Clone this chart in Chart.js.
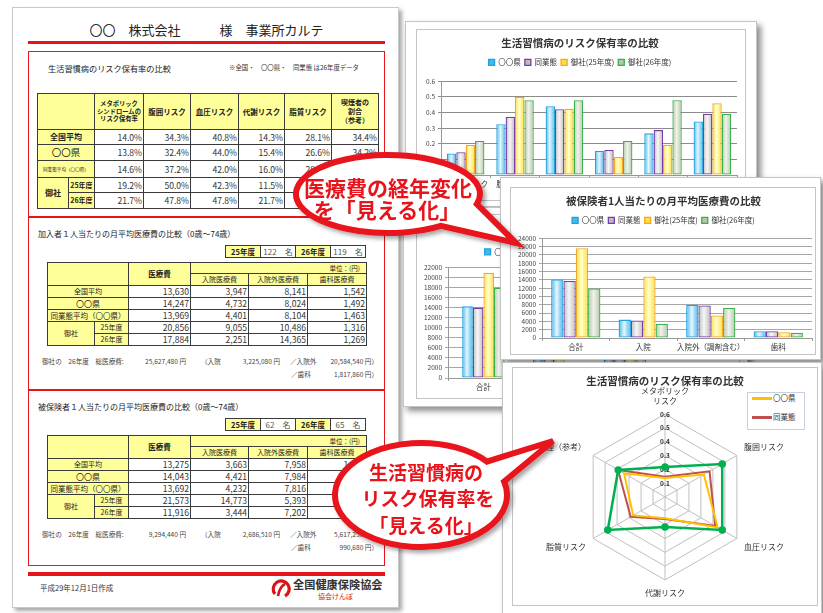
<!DOCTYPE html>
<html lang="ja">
<head>
<meta charset="utf-8">
<title>事業所カルテ</title>
<script src="https://cdn.jsdelivr.net/npm/chart.js@4.4.1/dist/chart.umd.min.js"></script>
<style>
  * { box-sizing: border-box; }
  html, body { margin: 0; padding: 0; }
  body { width: 823px; height: 613px; position: relative; overflow: hidden; background: #fff;
         font-family: "Noto Sans CJK JP", "Noto Sans", sans-serif; color: #222; }
  .abs { position: absolute; }
  .page { left: 12px; top: 7px; width: 387px; height: 601px; border: 1px solid #c9c9c9; background: #fff;
          box-shadow: 3px 3px 4px rgba(0,0,0,.35); }
  .redline { background: #e8141b; height: 3px; }
  .sec { border: 1.5px solid #e8141b; }
  .txt { white-space: nowrap; line-height: 1; color: #222; }
  table.tb { position: absolute; border-collapse: collapse; table-layout: fixed; }
  .tb td, .tb th { border: 1px solid #3a3a3a; padding: 0 1px; line-height: 1; overflow: hidden; white-space: nowrap; }
  .tb th { background: #ffff99; font-weight: bold; font-size: 7px; text-align: center; color: #222; }
  .tb td { font-size: 8.6px; text-align: right; color: #333; background: #fff; }
  .note { font-size: 6.6px; white-space: nowrap; color: #444; line-height: 1; position: absolute; }
  .card { background: #fff; border: 1px solid #c4c4c4; box-shadow: 4px 4px 6px rgba(0,0,0,.45); }
  .inner { border: 1px solid #c4c4c4; }
  canvas { position: absolute; }
  .lg { position: absolute; font-size: 7.5px; line-height: 1; white-space: nowrap; color: #333; }
  .lg i { display: inline-block; width: 20px; height: 3px; vertical-align: middle; margin-right: 1px; }
</style>
</head>
<body>

<div class="abs page"></div>
<div class="abs txt" style="left:28px;width:357px;top:23px;font-size:13px;text-align:center">〇〇　株式会社　　　様　事業所カルテ</div>
<div class="abs redline" style="left:28px;top:41px;width:357px"></div>

<div class="abs sec" style="left:28px;top:51px;width:357px;height:166px"></div>
<div class="abs sec" style="left:28px;top:217px;width:357px;height:173px"></div>
<div class="abs sec" style="left:28px;top:390px;width:357px;height:176px"></div>

<div class="abs txt" style="left:48px;top:64px;font-size:8.2px">生活習慣病のリスク保有率の比較</div>
<div class="abs txt" style="left:229px;top:65px;font-size:6.4px;color:#333">※全国・　〇〇県・　同業態 は26年度データ</div>
<div id="riskTable"></div>

<div class="abs txt" style="left:38px;top:230px;font-size:8px">加入者１人当たりの月平均医療費の比較（0歳～74歳）</div>
<div id="kanyuTables"></div>

<div class="abs txt" style="left:38px;top:403px;font-size:8px">被保険者１人当たりの月平均医療費の比較（0歳～74歳）</div>
<div id="hihoTables"></div>

<div class="abs redline" style="left:28px;top:572px;width:357px;height:4px"></div>
<div class="abs txt" style="left:40px;top:584px;font-size:7.5px;color:#333">平成29年12月1日作成</div>
<svg class="abs" style="left:270px;top:578px" width="22" height="22" viewBox="0 0 22 22">
  <path d="M5 16 A8 8 0 1 1 15 18" fill="none" stroke="#d7141a" stroke-width="3.2"/>
  <path d="M8 18 C9 12 11 8 15 6" fill="none" stroke="#d7141a" stroke-width="2.6"/>
</svg>
<div class="abs txt" style="left:293px;top:579px;font-size:11.2px;font-weight:bold;color:#333">全国健康保険協会</div>
<div class="abs txt" style="left:318px;top:593px;font-size:7px;color:#d7141a">協会けんぽ</div>

<!-- chart cards (back to front) -->
<div class="abs card" style="left:405px;top:21px;width:352px;height:186px"></div>
<div class="abs inner" style="left:416px;top:29px;width:330px;height:172px"></div>
<canvas id="chartRisk" width="328" height="171" style="left:417px;top:30px"></canvas>

<div class="abs card" style="left:403px;top:207px;width:345px;height:200px"></div>
<div class="abs inner" style="left:416px;top:214px;width:324px;height:185px"></div>
<canvas id="chartKanyu" width="322" height="183" style="left:417px;top:215px"></canvas>

<div class="abs card" style="left:500px;top:177px;width:321px;height:183px"></div>
<div class="abs inner" style="left:510px;top:187px;width:306px;height:168px"></div>
<canvas id="chartHiho" width="304" height="166" style="left:511px;top:188px"></canvas>

<div class="abs card" style="left:502px;top:362px;width:320px;height:252px"></div>
<div class="abs inner" style="left:512px;top:367px;width:306px;height:239px"></div>
<canvas id="chartRadar" width="304" height="237" style="left:513px;top:368px"></canvas>
<div class="abs" style="left:747px;top:392px;width:58px;height:38px;border:1px solid #c5d0e0;background:#fff"></div>
<div id="radarLegend"></div>

<!-- speech bubbles -->
<svg class="abs" style="left:0;top:0" width="823" height="613">
  <defs>
    <filter id="sh" x="-20%" y="-20%" width="140%" height="150%">
      <feDropShadow dx="3" dy="3" stdDeviation="2" flood-color="#000" flood-opacity="0.35"/>
    </filter>
  </defs>
  <path id="bubble1" fill="#fff" stroke="#e8141b" stroke-width="6" filter="url(#sh)"/>
  <path id="bubble2" fill="#fff" stroke="#e8141b" stroke-width="6" filter="url(#sh)"/>
  <g fill="#e8141b" font-weight="bold" text-anchor="middle" font-family="Noto Sans CJK JP, sans-serif">
    <text x="388" y="195.5" font-size="21">医療費の経年変化</text>
    <text x="387" y="218" font-size="21">を「見える化」</text>
    <text x="426" y="480" font-size="19">生活習慣病の</text>
    <text x="428" y="506" font-size="19">リスク保有率を</text>
    <text x="426" y="533" font-size="19">「見える化」</text>
  </g>
</svg>

<script>
// ---- 生活習慣病のリスク保有率 (%) ----
const riskHeaders = ['メタボリック<br>シンドロームの<br>リスク保有率', '腹囲リスク', '血圧リスク', '代謝リスク', '脂質リスク', '喫煙者の<br>割合<br>（参考）'];
const riskCats = ['メタボリック', '腹囲リスク', '血圧リスク', '代謝リスク', '脂質リスク', '喫煙（参考）'];
const radarLabels = [['メタボリック', 'リスク'], '腹囲リスク', '血圧リスク', '代謝リスク', '脂質リスク', '喫煙（参考）'];
const riskZenkoku = [14.0, 34.3, 40.8, 14.3, 28.1, 34.4];
const riskKen     = [13.8, 32.4, 44.0, 15.4, 26.6, 34.2];
const riskGyotai  = [14.6, 37.2, 42.0, 16.0, 28.7, 39.2];
const riskOnsha25 = [19.2, 50.0, 42.3, 11.5, 19.4, 45.8];
const riskOnsha26 = [21.7, 47.8, 47.8, 21.7, 47.8, 39.1];

// ---- 月平均医療費 (円) : 医療費, 入院, 入院外, 歯科 ----
const costHeaders = ['入院医療費', '入院外医療費', '歯科医療費'];
const costCats = ['合計', '入院', '入院外（調剤含む）', '歯科'];
const kanyuZenkoku = [13630, 3947, 8141, 1542];
const kanyuKen     = [14247, 4732, 8024, 1492];
const kanyuGyotai  = [13969, 4401, 8104, 1463];
const kanyuOnsha25 = [20856, 9055, 10486, 1316];
const kanyuOnsha26 = [17884, 2251, 14365, 1269];
const kanyuCount = [122, 119];
const kanyuTotals = ['25,627,480', '3,225,080', '20,584,540', '1,817,860'];

const hihoZenkoku = [13275, 3663, 7958, 1654];
const hihoKen     = [14043, 4421, 7984, 1638];
const hihoGyotai  = [13692, 4232, 7816, 1644];
const hihoOnsha25 = [21573, 14773, 5393, 1407];
const hihoOnsha26 = [11916, 3444, 7202, 1270];
const hihoCount = [62, 65];
const hihoTotals = ['9,294,440', '2,686,510', '5,617,250', '990,680'];

const seriesLabels = ['〇〇県', '同業態', '御社(25年度)', '御社(26年度)'];
const seriesBorder = ['#1fa2e0', '#7a3ca8', '#f5a623', '#36b34a'];
const seriesDark   = ['#46b6ec', '#bcbcbc', '#ffe03a', '#b7c5ab'];
const seriesLight  = ['#e6f6fd', '#f6f6f6', '#ffffd0', '#f0f3ec'];

// ---- tables ----
const cols = ws => '<colgroup>' + ws.map(w => `<col style="width:${w}px">`).join('') + '</colgroup>';
const pct = v => v.toFixed(1) + '%';
const yen = v => v.toLocaleString('en-US');

function buildRiskTable() {
  const hs = [6.3, 7.5, 7.5, 7.5, 7.5, 7];
  let h = '<table class="tb" style="left:37px;top:93px;width:341px">' + cols([31, 26, 49, 47, 48, 46, 47, 47]);
  h += '<tr style="height:36px"><th colspan="2"></th>' +
    riskHeaders.map((t, i) => `<th style="font-size:${hs[i]}px;line-height:1.25">${t}</th>`).join('') + '</tr>';
  const row = (ht, lab, vals) => `<tr style="height:${ht}px">${lab}${vals.map(v => `<td>${pct(v)}</td>`).join('')}</tr>`;
  h += row(15, '<th colspan="2" style="font-size:8px">全国平均</th>', riskZenkoku);
  h += row(16, '<th colspan="2" style="font-size:9.5px;font-weight:normal">〇〇県</th>', riskKen);
  h += row(17, '<th colspan="2" style="font-size:4.6px;font-weight:normal">同業態平均（〇〇県）</th>', riskGyotai);
  h += row(15, '<th rowspan="2" style="font-size:8px">御社</th><th style="font-size:7px">25年度</th>', riskOnsha25);
  h += row(16, '<th style="font-size:7px">26年度</th>', riskOnsha26);
  document.getElementById('riskTable').innerHTML = h + '</table>';
}

function buildCostTables(elId, top, counts, z, k, g, o25, o26, totals) {
  let h = `<table class="tb" style="left:225px;top:${top}px;width:140px">` + cols([35, 35, 35, 35]) +
    `<tr style="height:12px"><th style="font-size:7.5px">25年度</th><td style="font-size:8px;text-align:center;color:#555">${counts[0]}　名</td>` +
    `<th style="font-size:7.5px">26年度</th><td style="font-size:8px;text-align:center;color:#555">${counts[1]}　名</td></tr></table>`;
  const t = top + 17;
  h += `<table class="tb" style="left:47px;top:${t}px;width:319px">` + cols([47, 34, 62, 58, 59, 59]);
  h += '<tr style="height:11px"><th colspan="2" rowspan="2"></th><th rowspan="2" style="font-size:7.5px">医療費</th>' +
    '<th colspan="3" style="text-align:right;font-weight:normal;font-size:6.5px;padding-right:6px">単位：(円)</th></tr>';
  h += '<tr style="height:12px">' + costHeaders.map(c => `<th style="font-weight:normal;font-size:7px">${c}</th>`).join('') + '</tr>';
  const row = (lab, vals) => `<tr style="height:12px">${lab}${vals.map(v => `<td>${yen(v)}</td>`).join('')}</tr>`;
  h += row('<th colspan="2" style="font-weight:normal">全国平均</th>', z);
  h += row('<th colspan="2" style="font-weight:normal;font-size:8px">〇〇県</th>', k);
  h += row('<th colspan="2" style="font-weight:normal;font-size:7.5px">同業態平均（〇〇県）</th>', g);
  h += row('<th rowspan="2" style="font-weight:normal">御社</th><th style="font-weight:normal">25年度</th>', o25);
  h += row('<th style="font-weight:normal">26年度</th>', o26);
  h += '</table>';
  const y1 = t + 96, y2 = y1 + 13;
  h += `<div class="note" style="left:42px;top:${y1}px">御社の　26年度　総医療費:</div>`;
  h += `<div class="note" style="right:${823 - 186}px;top:${y1}px">${totals[0]} 円</div>`;
  h += `<div class="note" style="left:201px;top:${y1}px">（入院</div>`;
  h += `<div class="note" style="right:${823 - 280}px;top:${y1}px">${totals[1]} 円</div>`;
  h += `<div class="note" style="left:290px;top:${y1}px">／入院外</div>`;
  h += `<div class="note" style="right:${823 - 378}px;top:${y1}px">${totals[2]} 円）</div>`;
  h += `<div class="note" style="left:291px;top:${y2}px">／歯科</div>`;
  h += `<div class="note" style="right:${823 - 378}px;top:${y2}px">${totals[3]} 円）</div>`;
  document.getElementById(elId).innerHTML = h;
}

buildRiskTable();
buildCostTables('kanyuTables', 245, kanyuCount, kanyuZenkoku, kanyuKen, kanyuGyotai, kanyuOnsha25, kanyuOnsha26, kanyuTotals);
buildCostTables('hihoTables', 418, hihoCount, hihoZenkoku, hihoKen, hihoGyotai, hihoOnsha25, hihoOnsha26, hihoTotals);

// ---- speech bubbles ----
function bubblePath(cx, cy, rx, ry, a1, a2, tx, ty) {
  const p = a => [cx + rx * Math.cos(a * Math.PI / 180), cy + ry * Math.sin(a * Math.PI / 180)];
  const [x1, y1] = p(a1), [x2, y2] = p(a2);
  return `M${x1},${y1} A${rx},${ry} 0 1 0 ${x2},${y2} L${tx},${ty} Z`;
}
document.getElementById('bubble1').setAttribute('d', bubblePath(388, 194, 92, 39, 15, 55, 516, 243));
document.getElementById('bubble2').setAttribute('d', bubblePath(421, 495, 86, 52, -40, -15, 553, 441));

// ---- charts ----
Chart.defaults.font.family = '"Noto Sans CJK JP", "Noto Sans", sans-serif';
Chart.defaults.color = '#333';

const legendGap = {
  id: 'legendGap',
  beforeInit(chart, args, opts) {
    const fit = chart.legend.fit;
    chart.legend.fit = function () { fit.call(this); this.height += opts.extra || 0; };
  }
};

function makeBar(id, title, labels, series, o) {
  // Excel-like shading: dark edges, light centre, across each bar
  const fill = i => ctx => {
    if (ctx.type !== 'data') return seriesLight[i];
    const xs = ctx.chart.scales.x;
    if (!xs || !xs.width) return seriesDark[i];
    const grp = xs.width / labels.length * o.catPct;
    const w = grp / series.length;
    const x0 = xs.getPixelForValue(ctx.dataIndex) - grp / 2 + w * ctx.datasetIndex;
    if (!isFinite(x0) || !isFinite(w)) return seriesDark[i];
    const g = ctx.chart.ctx.createLinearGradient(x0, 0, x0 + w, 0);
    g.addColorStop(0, seriesDark[i]);
    g.addColorStop(0.45, seriesLight[i]);
    g.addColorStop(1, seriesDark[i]);
    return g;
  };
  const chart = new Chart(document.getElementById(id), {
    type: 'bar',
    data: {
      labels: labels,
      datasets: series.map((d, i) => ({
        label: seriesLabels[i], data: d, backgroundColor: fill(i), borderColor: seriesBorder[i],
        borderWidth: 1.3, borderSkipped: false, categoryPercentage: o.catPct, barPercentage: 1
      }))
    },
    options: {
      responsive: false,
      animation: false,
      layout: { padding: o.pad },
      plugins: {
        title: { display: true, text: title, color: '#333', font: { size: 10.5, weight: 'bold' }, padding: o.titlePad },
        legend: { labels: { boxWidth: 6, boxHeight: 6, padding: 4, font: { size: 7.5 }, color: '#333' } },
        legendGap: { extra: o.gap },
        tooltip: { enabled: false }
      },
      scales: {
        x: {
          grid: { display: true, drawOnChartArea: false, offset: true, tickLength: 3, color: '#999' },
          border: { color: '#999' },
          ticks: { font: { size: 7.5 }, color: '#333', padding: 2, maxRotation: 0, autoSkip: false }
        },
        y: {
          min: 0, max: o.max,
          ticks: { stepSize: o.step, autoSkip: false, font: { size: 6.5 }, color: '#444', padding: 3, callback: o.fmt },
          grid: { color: o.gridColor, tickLength: 3 },
          border: { color: '#999' }
        }
      }
    },
    plugins: [legendGap]
  });
  chart.update();  // second pass so the gradients see the laid-out scale
  return chart;
}

const toRate = a => a.map(v => v / 100);

makeBar('chartRisk', '生活習慣病のリスク保有率の比較', riskCats,
  [toRate(riskKen), toRate(riskGyotai), toRate(riskOnsha25), toRate(riskOnsha26)],
  { catPct: 0.76, max: 0.6, step: 0.1, fmt: v => (v === 0 ? '0' : v.toFixed(1)), gridColor: '#8c8c8c',
    pad: { left: 6, right: 8, bottom: 10 }, titlePad: { top: 7, bottom: 5 }, gap: 5 });

makeBar('chartKanyu', '加入者1人当たりの月平均医療費の比較', costCats,
  [kanyuKen, kanyuGyotai, kanyuOnsha25, kanyuOnsha26],
  { catPct: 0.6, max: 22000, step: 2000, fmt: v => String(v), gridColor: '#a6a6a6',
    pad: { left: 4, right: 8, bottom: 4 }, titlePad: { top: 8, bottom: 8.5 }, gap: 1.5 });

makeBar('chartHiho', '被保険者1人当たりの月平均医療費の比較', costCats,
  [hihoKen, hihoGyotai, hihoOnsha25, hihoOnsha26],
  { catPct: 0.73, max: 24000, step: 2000, fmt: v => String(v), gridColor: '#a6a6a6',
    pad: { left: 4, right: 3, bottom: 0 }, titlePad: { top: 7, bottom: 5 }, gap: 4 });

// ---- radar ----
const radarSeries = [
  { label: '〇〇県', data: toRate(riskKen), color: '#ffc000', width: 2, pr: 0, order: 1 },
  { label: '同業態', data: toRate(riskGyotai), color: '#c0504d', width: 2, pr: 0, order: 2 },
  { label: '御社(26年度)', data: toRate(riskOnsha26), color: '#00b050', width: 2.5, pr: 2.5, order: 0 }
];
new Chart(document.getElementById('chartRadar'), {
  type: 'radar',
  data: {
    labels: radarLabels,
    datasets: radarSeries.map(s => ({
      label: s.label, data: s.data, borderColor: s.color, backgroundColor: 'transparent', borderWidth: s.width,
      pointRadius: s.pr, pointBackgroundColor: s.color, pointBorderColor: s.color, fill: false, order: s.order
    }))
  },
  options: {
    responsive: false,
    animation: false,
    layout: { padding: { top: 0, bottom: 2, left: 0, right: 0 } },
    plugins: {
      title: { display: true, text: '生活習慣病のリスク保有率の比較', color: '#333', font: { size: 10.5, weight: 'bold' }, padding: { top: 7, bottom: -6 } },
      legend: { display: false },
      tooltip: { enabled: false }
    },
    scales: {
      r: {
        min: 0, max: 0.6,
        ticks: { stepSize: 0.1, showLabelBackdrop: false, font: { size: 6.5, weight: 'bold' }, color: '#333',
                 callback: v => (v === 0 ? '0' : v.toFixed(1)) },
        grid: { color: '#bfbfbf' },
        angleLines: { color: '#bfbfbf' },
        pointLabels: { font: { size: 8 }, color: '#333', padding: 3 }
      }
    },
    elements: { line: { tension: 0 } }
  }
});

// radar legend (first two series, as in the original)
document.getElementById('radarLegend').innerHTML = radarSeries.slice(0, 2).map((s, i) =>
  `<div class="lg" style="left:752px;top:${394 + i * 19}px"><i style="background:${s.color}"></i>${s.label}</div>`).join('');
</script>
</body>
</html>
